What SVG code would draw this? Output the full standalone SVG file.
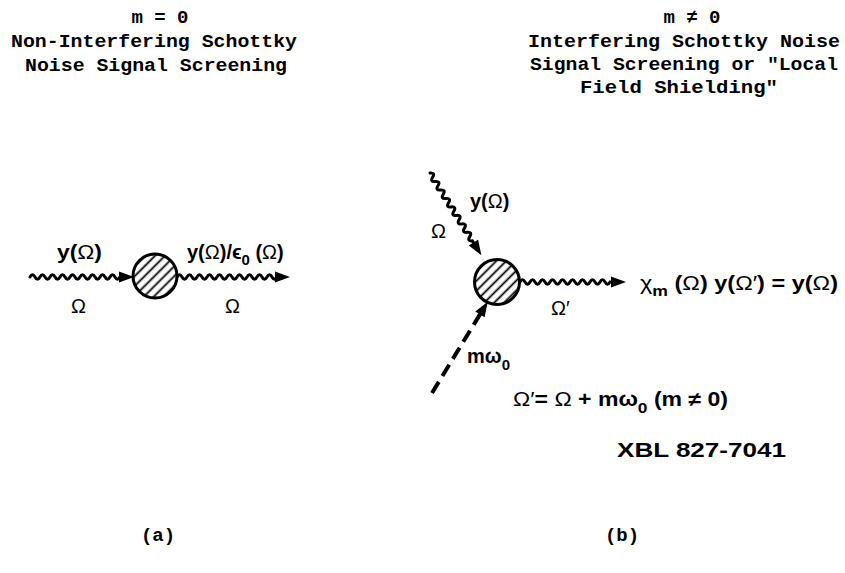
<svg xmlns="http://www.w3.org/2000/svg" width="845" height="573" viewBox="0 0 845 573">
<style>
.title{font-family:"Liberation Mono","DejaVu Sans Mono",monospace;font-size:19px;font-weight:bold;fill:#000}
.lbl{font-family:"Liberation Sans",Arial,sans-serif;font-size:20px;font-weight:bold;fill:#000}
.sym{font-family:"Liberation Sans",Arial,sans-serif;font-size:20px;fill:#000}
.wave{fill:none;stroke:#000;stroke-width:3;stroke-linecap:round}
.dash{fill:none;stroke:#000;stroke-width:4;stroke-dasharray:13 7}
.node{fill:url(#hatch);stroke:#000;stroke-width:3}
</style>
<defs>
<pattern id="hatch" width="7" height="7" patternUnits="userSpaceOnUse" patternTransform="rotate(-45)">
<rect width="7" height="7" fill="#fff"/>
<line x1="0" y1="3.5" x2="7" y2="3.5" stroke="#000" stroke-width="1.8"/>
</pattern>
<path id="ah" d="M-15 -5.5 L0 0 L-15 5.5 Z" fill="#000"/>
</defs>
<rect width="845" height="573" fill="#fff"/>

<g id="titles">
<text class="title" x="160" y="23" text-anchor="middle">m = 0</text>
<text class="title" x="154" y="47" text-anchor="middle" textLength="286" lengthAdjust="spacingAndGlyphs">Non-Interfering Schottky</text>
<text class="title" x="156" y="71" text-anchor="middle" textLength="262" lengthAdjust="spacingAndGlyphs">Noise Signal Screening</text>
<text class="title" x="692" y="23" text-anchor="middle">m ≠ 0</text>
<text class="title" x="684" y="47" text-anchor="middle" textLength="312" lengthAdjust="spacingAndGlyphs">Interfering Schottky Noise</text>
<text class="title" x="684" y="70" text-anchor="middle" textLength="308" lengthAdjust="spacingAndGlyphs">Signal Screening or "Local</text>
<text class="title" x="679" y="93" text-anchor="middle" textLength="198" lengthAdjust="spacingAndGlyphs">Field Shielding"</text>
</g>

<g id="connectors">
<path class="wave" d="M30 277 q2.5 -4.5 5 0 t5 0 t5 0 t5 0 t5 0 t5 0 t5 0 t5 0 t5 0 t5 0 t5 0 t5 0 t5 0 t5 0 t5 0 t5 0 t5 0 t5 0 L124 277"/>
<use href="#ah" transform="translate(134,277)"/>
<path class="wave" d="M177 277 q2.5 -4.5 5 0 t5 0 t5 0 t5 0 t5 0 t5 0 t5 0 t5 0 t5 0 t5 0 t5 0 t5 0 t5 0 t5 0 t5 0 t5 0 t5 0 t5 0 t5 0 t5 0 L280 277"/>
<use href="#ah" transform="translate(290,277)"/>
<g transform="translate(430,173) rotate(58)">
<path class="wave" d="M0 0 q2.5 -5 5 0 t5 0 t5 0 t5 0 t5 0 t5 0 t5 0 t5 0 t5 0 t5 0 t5 0 t5 0 t5 0 t5 0 t5 0 t5 0 L86 0"/>
<use href="#ah" transform="translate(97,0)"/>
</g>
<g transform="translate(432,393) rotate(-58.6)">
<line class="dash" x1="0" y1="0" x2="94" y2="0"/>
<use href="#ah" transform="translate(107,0)"/>
</g>
<path class="wave" d="M520 282 q2.5 -4.5 5 0 t5 0 t5 0 t5 0 t5 0 t5 0 t5 0 t5 0 t5 0 t5 0 t5 0 t5 0 t5 0 t5 0 t5 0 t5 0 t5 0 t5 0 L616 282"/>
<use href="#ah" transform="translate(626,282)"/>
</g>

<g id="node-a">
<circle class="node" cx="155" cy="276" r="22"/>
</g>
<g id="node-b">
<circle class="node" cx="497" cy="282" r="22.5"/>
</g>

<g id="labels-a">
<text class="lbl" x="57" y="259" textLength="45" lengthAdjust="spacingAndGlyphs">y(<tspan font-weight="normal">Ω</tspan>)</text>
<text class="lbl" x="187" y="259">y(<tspan font-weight="normal">Ω</tspan>)/ϵ<tspan font-size="15" dy="6">0</tspan><tspan dy="-6"> (</tspan><tspan font-weight="normal">Ω</tspan>)</text>
<text class="sym" x="71" y="313">Ω</text>
<text class="sym" x="225" y="313">Ω</text>
</g>

<g id="labels-b">
<text class="lbl" x="470" y="208">y(<tspan font-weight="normal">Ω</tspan>)</text>
<text class="sym" x="431" y="238">Ω</text>
<text class="lbl" x="467" y="363">mω<tspan font-size="15" dy="7">0</tspan></text>
<text class="sym" x="551" y="315">Ω′</text>
<text class="lbl" x="640" y="290" textLength="198" lengthAdjust="spacingAndGlyphs"><tspan font-weight="normal">χ</tspan><tspan font-size="15" dy="6">m</tspan><tspan dy="-6"> (</tspan><tspan font-weight="normal">Ω</tspan>) y(<tspan font-weight="normal">Ω′</tspan>) = y(<tspan font-weight="normal">Ω</tspan>)</text>
<text class="lbl" x="513" y="406" textLength="215" lengthAdjust="spacingAndGlyphs"><tspan font-weight="normal">Ω′</tspan>= <tspan font-weight="normal">Ω</tspan> + mω<tspan font-size="15" dy="7">0</tspan><tspan dy="-7"> (m ≠ 0)</tspan></text>
<text class="lbl" x="617" y="457" textLength="169" lengthAdjust="spacingAndGlyphs">XBL 827-7041</text>
</g>

<g id="captions">
<text class="title" x="158" y="541" text-anchor="middle" font-size="21">(a)</text>
<text class="title" x="622" y="541" text-anchor="middle" font-size="21">(b)</text>
</g>
</svg>
